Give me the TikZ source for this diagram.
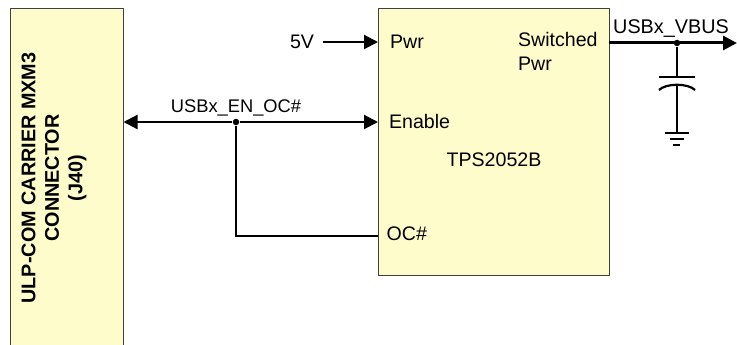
\documentclass[tikz,border=0pt]{standalone}
\usepackage{fontspec}
\setmainfont{Liberation Sans}
\usepackage{tikz}
\usetikzlibrary{arrows.meta}
\usetikzlibrary{calc}

\begin{document}
\begin{tikzpicture}[x=1pt, y=-1pt, line width=2.2pt,
    main/.style = {draw=black!75, line width=1pt, fill=yellow!20, inner sep=0pt, anchor=north west},
    lbl/.style = {font=\fontsize{19.6}{24}\selectfont, inner sep=0pt},
    tip/.style = {-{Triangle[length=14pt, width=14pt]}},
    dot/.style = {circle, fill=black, inner sep=0pt, minimum size=6.5pt}]
    \useasboundingbox (0, 0) rectangle (737, 345);
    \node [main, minimum width=113pt, minimum height=350pt] (conn) at (10, 8) {};
    \node [main, minimum width=231pt, minimum height=267pt] (chip) at (378, 8) {};

    \node [font=\fontsize{19.8}{23.5}\selectfont\bfseries, align=center, rotate=90] (connlbl) at (54, 178) {ULP-COM CARRIER MXM3\\CONNECTOR\\(J40)};
    \node [lbl, anchor=west] (pwr) at (389, 42) {Pwr};
    \node [lbl, anchor=west] (enable) at (388, 121) {Enable};
    \node [lbl, anchor=west] (oc) at (385.5, 234) {OC\#};
    \node [lbl] (tps) at (494, 160) {TPS2052B};
    \node [lbl, anchor=north west, align=left] (sw) at (517, 31) {Switched\\Pwr};
    \node [lbl] (five) at (302, 42) {5V};
    \node [lbl, font=\fontsize{18.3}{24}\selectfont] (enoc) at (236, 108) {USBx\_EN\_OC\#};
    \node [lbl, font=\fontsize{19.8}{24}\selectfont] (vbus) at (671, 29) {USBx\_VBUS};

    \node [dot] (j1) at (236, 122) {};
    \node [dot] (j2) at (677, 43) {};
    \coordinate (c5v) at (323, 42);
    \coordinate (cpwr) at (378, 42);
    \coordinate (cen) at (378, 122);
    \coordinate (coc) at (378, 236);
    \coordinate (cconn) at (123.5, 122);
    \coordinate (cbend) at (236, 236);
    \coordinate (csw) at (609, 43);
    \coordinate (cout) at (737, 43);
    \coordinate (cplate) at (677, 77);
    \coordinate (ccurve) at (677, 85);
    \coordinate (cgnd) at (677, 133);

    \draw [tip] (c5v) to (cpwr);
    \draw [tip] (j1) to (cconn);
    \draw [tip] (j1) to (cen);
    \draw (j1) to (cbend) to (coc);
    \draw [tip, line width=3pt] (csw) to (cout);

    % capacitor and ground
    \draw (j2) to (cplate);
    \draw (659, 77) to (695, 77);
    \draw (659, 90) .. controls (666, 83) and (688, 83) .. (695, 90);
    \draw (ccurve) to (cgnd);
    \draw (665, 133) to (689, 133);
    \draw (670, 139) to (684, 139);
    \draw (673, 145) to (680, 145);

\end{tikzpicture}
\end{document}
